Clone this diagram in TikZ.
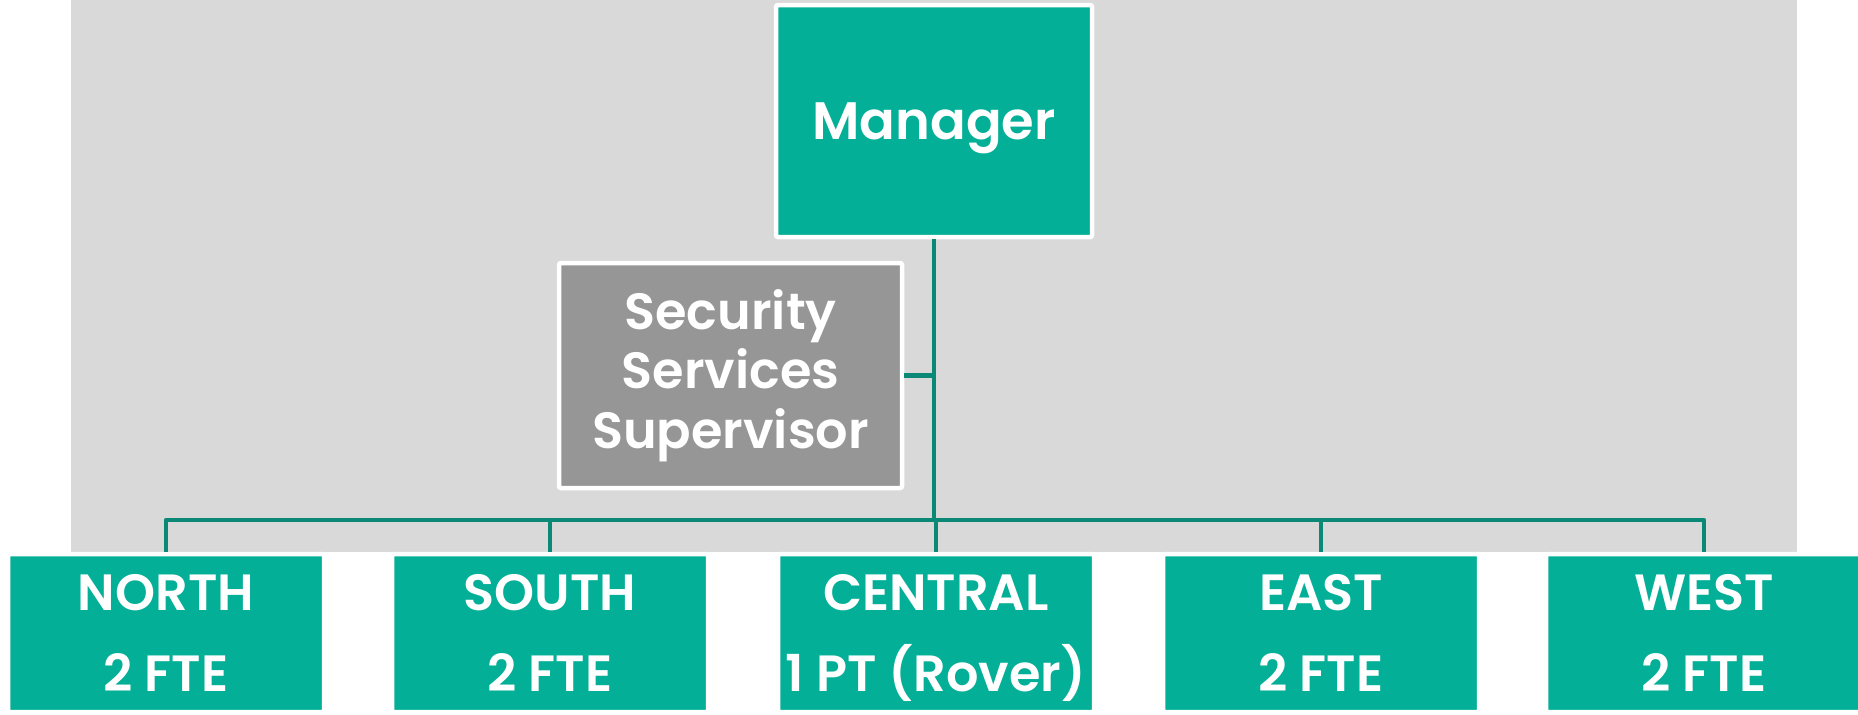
\documentclass[tikz,border=0pt]{standalone}
\usepackage{fontspec}
\setmainfont{Poppins}[BoldFont={Poppins SemiBold}]
\definecolor{tealfill}{HTML}{04AF98}
\definecolor{tealline}{HTML}{0A8976}
\definecolor{boxgray}{HTML}{969696}
\definecolor{bggray}{HTML}{D9D9D9}
\tikzset{
  orgbox/.style={draw=white, line width=0.45mm, rounded corners=0.2mm, fill=tealfill,
    text=white, font=\bfseries\fontsize{15pt}{17pt}\selectfont, align=center, inner sep=0pt},
  graybox/.style={orgbox, fill=boxgray, font=\bfseries\fontsize{14.5pt}{17pt}\selectfont},
  unitbox/.style={orgbox, minimum width=31.6mm, minimum height=15.8mm,
    font=\bfseries\fontsize{14.5pt}{23pt}\selectfont},
  conn/.style={draw=tealline, line width=0.45mm, line join=round}
}
\begin{document}
\begin{tikzpicture}[x=0.1mm,y=-0.1mm]
\useasboundingbox (0,0) rectangle (1858,714);
\fill[bggray] (71,0) rectangle (1797,552);
\node[orgbox, minimum width=31.6mm, minimum height=23.2mm] (mgr) at (934,121) {\raisebox{0pt}[\height][0pt]{Manager}};
\node[graybox, minimum width=34.3mm, minimum height=22.5mm] (sup) at (730.5,375.5) {Security\\Services\\Supervisor};
\node[unitbox] (north) at (166,633) {NORTH\\2 FTE};
\node[unitbox] (south) at (550,633) {SOUTH\\2 FTE};
\node[unitbox] (central) at (936,633) {CENTRAL\\\raisebox{0pt}[\height][0pt]{1 PT (Rover)}};
\node[unitbox] (east) at (1321,633) {EAST\\2 FTE};
\node[unitbox] (west) at (1704,633) {WEST\\2 FTE};
\coordinate (busy) at (0,520);
\draw[conn] (mgr.south) -- (mgr.south |- busy);
\draw[conn] (sup.east) -- (sup.east -| mgr.south);
\draw[conn] (north.north) -- (north.north |- busy) -- (west.north |- busy) -- (west.north);
\draw[conn] (south.north) -- (south.north |- busy);
\draw[conn] (central.north) -- (central.north |- busy);
\draw[conn] (east.north) -- (east.north |- busy);
\end{tikzpicture}
\end{document}
